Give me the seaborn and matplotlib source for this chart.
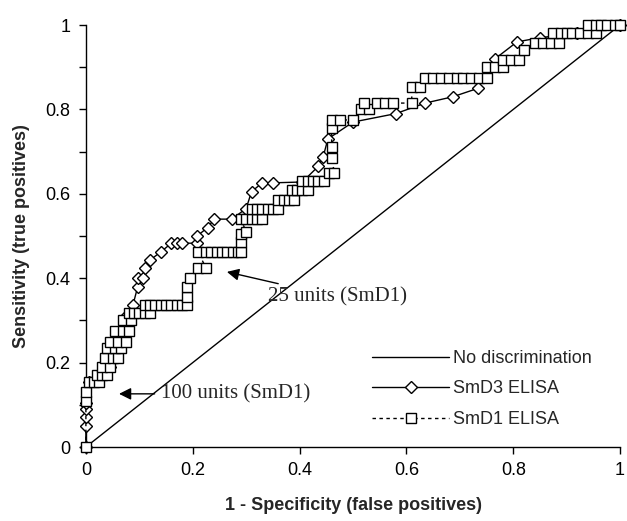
import pandas as pd
import seaborn as sns
import matplotlib.pyplot as plt
from matplotlib.ticker import FixedLocator, FixedFormatter, MultipleLocator

# ROC points (false positive rate, true positive rate)
smd3_fp = [0, 0, 0, 0, 0, 0.005, 0.025, 0.045, 0.05, 0.05, 0.065, 0.075, 0.088,
           0.097, 0.097, 0.107, 0.11, 0.12, 0.14, 0.16, 0.17, 0.18, 0.208, 0.208,
           0.228, 0.24, 0.273, 0.30, 0.31, 0.33, 0.35, 0.405, 0.435, 0.444, 0.453,
           0.50, 0.58, 0.635, 0.687, 0.734, 0.766, 0.807, 0.85, 0.92, 1.0]
smd3_tp = [0, 0.05, 0.07, 0.09, 0.105, 0.155, 0.165, 0.19, 0.215, 0.25, 0.28, 0.31, 0.336,
           0.38, 0.40, 0.40, 0.424, 0.443, 0.462, 0.483, 0.483, 0.483, 0.483, 0.50,
           0.52, 0.54, 0.54, 0.565, 0.605, 0.626, 0.626, 0.628, 0.665, 0.687, 0.73,
           0.77, 0.79, 0.815, 0.83, 0.85, 0.92, 0.96, 0.97, 0.98, 1.0]

smd1_fp = [0, 0, 0, 0.005, 0.015, 0.025, 0.02, 0.03, 0.04, 0.03, 0.045,
           0.035, 0.05, 0.06, 0.04, 0.055, 0.065, 0.045, 0.06, 0.075,
           0.055, 0.07, 0.08, 0.07, 0.085,
           0.08, 0.09, 0.10, 0.11, 0.12,
           0.11, 0.12, 0.13, 0.14, 0.15, 0.16, 0.17, 0.18, 0.19,
           0.19, 0.19, 0.195, 0.21, 0.225,
           0.21, 0.225, 0.235, 0.245, 0.255, 0.265, 0.275, 0.285, 0.29,
           0.29, 0.29, 0.30,
           0.29, 0.30, 0.31, 0.32, 0.33,
           0.31, 0.32, 0.33, 0.34, 0.35, 0.36,
           0.36, 0.37, 0.38, 0.39,
           0.385, 0.395, 0.405, 0.415,
           0.405, 0.415, 0.425, 0.435, 0.445,
           0.455, 0.465, 0.46, 0.46, 0.46, 0.46, 0.475, 0.50,
           0.515, 0.53, 0.52, 0.545, 0.56, 0.575, 0.61,
           0.61, 0.625,
           0.635, 0.65, 0.665, 0.68, 0.695, 0.705, 0.72, 0.735, 0.75,
           0.75, 0.765, 0.78,
           0.78, 0.795, 0.81, 0.82,
           0.84, 0.855, 0.87, 0.885,
           0.875, 0.89, 0.90, 0.91, 0.925, 0.94, 0.955,
           0.94, 0.955, 0.965, 0.975, 0.99, 1.0]
smd1_tp = [0, 0.11, 0.13, 0.155, 0.155, 0.155, 0.17, 0.17, 0.17, 0.19, 0.19,
           0.21, 0.21, 0.21, 0.235, 0.235, 0.235, 0.25, 0.25, 0.25,
           0.275, 0.275, 0.275, 0.30, 0.30,
           0.318, 0.318, 0.318, 0.318, 0.318,
           0.336, 0.336, 0.336, 0.336, 0.336, 0.336, 0.336, 0.336, 0.336,
           0.355, 0.38, 0.40, 0.424, 0.424,
           0.462, 0.462, 0.462, 0.462, 0.462, 0.462, 0.462, 0.462, 0.462,
           0.485, 0.505, 0.51,
           0.54, 0.54, 0.54, 0.54, 0.54,
           0.565, 0.565, 0.565, 0.565, 0.565, 0.565,
           0.585, 0.585, 0.585, 0.585,
           0.61, 0.61, 0.61, 0.61,
           0.63, 0.63, 0.63, 0.63, 0.63,
           0.65, 0.65, 0.685, 0.71, 0.755, 0.775, 0.775, 0.775,
           0.80, 0.80, 0.815, 0.815, 0.815, 0.815, 0.815,
           0.853, 0.853,
           0.875, 0.875, 0.875, 0.875, 0.875, 0.875, 0.875, 0.875, 0.875,
           0.90, 0.90, 0.90,
           0.917, 0.917, 0.917, 0.94,
           0.958, 0.958, 0.958, 0.958,
           0.98, 0.98, 0.98, 0.98, 0.98, 0.98, 0.98,
           1.0, 1.0, 1.0, 1.0, 1.0, 1.0]

chance = [0, 1]
tick_vals = [0, 0.2, 0.4, 0.6, 0.8, 1]
tick_labels = ['0', '0.2', '0.4', '0.6', '0.8', '1']

d3 = pd.DataFrame({'fp': smd3_fp, 'tp': smd3_tp})
d1 = pd.DataFrame({'fp': smd1_fp, 'tp': smd1_tp})

sns.set_theme(style='white')
plt.rcParams['font.family'] = ['Liberation Sans', 'DejaVu Sans']

fig = plt.figure(figsize=(6.27, 5.21), dpi=100)
ax = fig.add_axes([0.137, 0.142, 0.852, 0.81])

sns.lineplot(x=chance, y=chance, ax=ax, color='black', lw=1,
             label='No discrimination')
sns.lineplot(data=d3, x='fp', y='tp', sort=False, estimator=None, ax=ax,
             color='black', lw=1, marker='D', ms=6, mfc='white', mec='black',
             mew=1, label='SmD3 ELISA', clip_on=False, zorder=3)
sns.lineplot(data=d1, x='fp', y='tp', sort=False, estimator=None, ax=ax,
             color='black', lw=1, ls=(0, (2.5, 2.5)), marker='s', ms=7.5,
             mfc='white', mec='black', mew=1, label='SmD1 ELISA',
             clip_on=False, zorder=4)

ax.set_xlim(0, 1)
ax.set_ylim(0, 1)
ax.xaxis.set_major_locator(FixedLocator(tick_vals))
ax.xaxis.set_major_formatter(FixedFormatter(tick_labels))
ax.yaxis.set_major_locator(FixedLocator(tick_vals))
ax.yaxis.set_major_formatter(FixedFormatter(tick_labels))
ax.yaxis.set_minor_locator(MultipleLocator(0.1))
ax.tick_params(axis='both', which='both', direction='out', length=5,
               width=1, color='black', labelsize=13, labelcolor='black', pad=6)
ax.tick_params(left=True, bottom=True, which='both')

for side in ['top', 'right']:
    ax.spines[side].set_visible(False)
for side in ['left', 'bottom']:
    ax.spines[side].set_color('black')
    ax.spines[side].set_linewidth(1)

ax.set_xlabel('1 - Specificity (false positives)', fontsize=13,
              fontweight='bold', labelpad=13)
ax.set_ylabel('Sensitivity (true positives)', fontsize=13,
              fontweight='bold', labelpad=11)

ax.annotate('25 units (SmD1)', xy=(0.264, 0.415), xytext=(0.34, 0.355),
            fontsize=15, family='Liberation Serif', ha='left', va='center',
            arrowprops=dict(arrowstyle='-|>', color='black', lw=1,
                            mutation_scale=18, shrinkA=2, shrinkB=0))
ax.annotate('100 units (SmD1)', xy=(0.062, 0.126), xytext=(0.14, 0.126),
            fontsize=15, family='Liberation Serif', ha='left', va='center',
            arrowprops=dict(arrowstyle='-|>', color='black', lw=1,
                            mutation_scale=18, shrinkA=2, shrinkB=0))

handles, labels = ax.get_legend_handles_labels()
ax.legend(handles, labels, loc='upper left', bbox_to_anchor=(0.535, 0.23),
          frameon=False, fontsize=13, handlelength=4.3, numpoints=1,
          labelspacing=0.75, handletextpad=0.2, borderpad=0, borderaxespad=0)

plt.savefig('out.png', dpi=100)
